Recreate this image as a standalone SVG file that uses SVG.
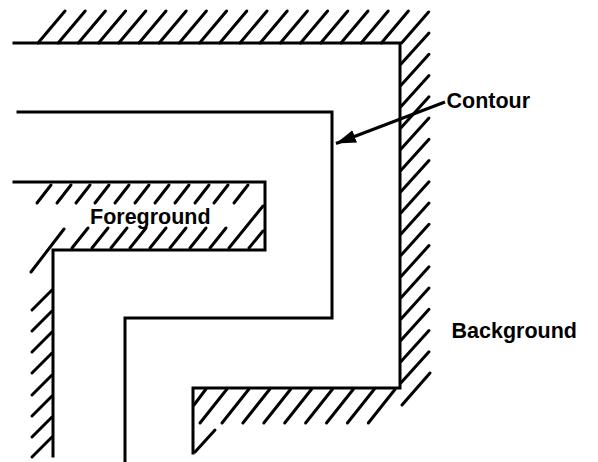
<svg xmlns="http://www.w3.org/2000/svg" width="598" height="462" viewBox="0 0 598 462">
<style>
.edge{fill:none;stroke:#000;stroke-width:3;stroke-linejoin:miter;stroke-linecap:square}
.h line{stroke:#000;stroke-width:3;stroke-linecap:round}
.lbl{font-family:"Liberation Sans",Arial,sans-serif;font-size:21.5px;font-weight:bold;fill:#000}
.conn{stroke:#000;stroke-width:3;fill:none;stroke-linecap:butt}
</style>
<defs>
<marker id="arr" markerUnits="userSpaceOnUse" markerWidth="22" markerHeight="14" refX="20" refY="6.5" orient="auto">
<path d="M0,0 L20,6.5 L0,13 z" fill="#000"/>
</marker>
</defs>
<rect width="598" height="462" fill="#fff"/>
<g id="background">
<path class="edge" d="M14,43 H400 V388 H193 V453"/>
<g class="h">
<line x1="38" y1="43" x2="65" y2="11"/>
<line x1="58.2" y1="43" x2="85.2" y2="11"/>
<line x1="78.4" y1="43" x2="105.4" y2="11"/>
<line x1="98.6" y1="43" x2="125.6" y2="11"/>
<line x1="118.8" y1="43" x2="145.8" y2="11"/>
<line x1="139" y1="43" x2="166" y2="11"/>
<line x1="159.2" y1="43" x2="186.2" y2="11"/>
<line x1="179.4" y1="43" x2="206.4" y2="11"/>
<line x1="199.6" y1="43" x2="226.6" y2="11"/>
<line x1="219.8" y1="43" x2="246.8" y2="11"/>
<line x1="240" y1="43" x2="267" y2="11"/>
<line x1="260.2" y1="43" x2="287.2" y2="11"/>
<line x1="280.4" y1="43" x2="307.4" y2="11"/>
<line x1="300.6" y1="43" x2="327.6" y2="11"/>
<line x1="320.8" y1="43" x2="347.8" y2="11"/>
<line x1="341" y1="43" x2="368" y2="11"/>
<line x1="361.2" y1="43" x2="388.2" y2="11"/>
<line x1="381.4" y1="43" x2="408.4" y2="11"/>
<line x1="401.6" y1="43" x2="428.6" y2="12"/>
<line x1="401" y1="64" x2="429" y2="33"/>
<line x1="401" y1="85.25" x2="429" y2="54.25"/>
<line x1="401" y1="106.5" x2="429" y2="75.5"/>
<line x1="401" y1="127.75" x2="429" y2="96.75"/>
<line x1="401" y1="149" x2="429" y2="118"/>
<line x1="401" y1="170.25" x2="429" y2="139.25"/>
<line x1="401" y1="191.5" x2="429" y2="160.5"/>
<line x1="401" y1="212.75" x2="429" y2="181.75"/>
<line x1="401" y1="234" x2="429" y2="203"/>
<line x1="401" y1="255.25" x2="429" y2="224.25"/>
<line x1="401" y1="276.5" x2="429" y2="245.5"/>
<line x1="401" y1="297.75" x2="429" y2="266.75"/>
<line x1="401" y1="319" x2="429" y2="288"/>
<line x1="401" y1="340.25" x2="429" y2="309.25"/>
<line x1="401" y1="361.5" x2="429" y2="330.5"/>
<line x1="401" y1="382.75" x2="429" y2="351.75"/>
<line x1="402" y1="405" x2="430" y2="373"/>
<line x1="222" y1="423" x2="249" y2="389"/>
<line x1="242.9" y1="423" x2="269.9" y2="389"/>
<line x1="263.8" y1="423" x2="290.8" y2="389"/>
<line x1="284.7" y1="423" x2="311.7" y2="389"/>
<line x1="305.6" y1="423" x2="332.6" y2="389"/>
<line x1="326.5" y1="423" x2="353.5" y2="389"/>
<line x1="347.4" y1="423" x2="374.4" y2="389"/>
<line x1="368.3" y1="423" x2="395.3" y2="389"/>
<line x1="200" y1="423" x2="227" y2="389"/>
<line x1="194" y1="405" x2="206" y2="389"/>
<line x1="195" y1="452" x2="215" y2="430"/>
</g>
</g>
<g id="foreground">
<path class="edge" d="M14,182 H265 V250 H53 V456"/>
<g class="h">
<line x1="37" y1="203" x2="51" y2="185"/>
<line x1="57" y1="203" x2="71" y2="185"/>
<line x1="76" y1="203" x2="90" y2="185"/>
<line x1="95" y1="203" x2="109" y2="185"/>
<line x1="115" y1="203" x2="129" y2="185"/>
<line x1="135" y1="203" x2="149" y2="185"/>
<line x1="155" y1="203" x2="169" y2="185"/>
<line x1="175" y1="203" x2="189" y2="185"/>
<line x1="195" y1="203" x2="209" y2="185"/>
<line x1="214" y1="203" x2="228" y2="185"/>
<line x1="234" y1="203" x2="248" y2="185"/>
<line x1="72" y1="248" x2="88" y2="228"/>
<line x1="92" y1="248" x2="108" y2="228"/>
<line x1="111" y1="248" x2="127" y2="228"/>
<line x1="130" y1="248" x2="146" y2="228"/>
<line x1="150" y1="248" x2="166" y2="228"/>
<line x1="170" y1="248" x2="186" y2="228"/>
<line x1="190" y1="248" x2="206" y2="228"/>
<line x1="210" y1="248" x2="226" y2="228"/>
<line x1="229" y1="248" x2="263" y2="206"/>
<line x1="249" y1="248" x2="263" y2="231"/>
<line x1="31" y1="272" x2="64" y2="229"/>
<line x1="32" y1="310" x2="52" y2="290"/>
<line x1="32" y1="331" x2="52" y2="311"/>
<line x1="32" y1="352" x2="52" y2="332"/>
<line x1="32" y1="373" x2="52" y2="353"/>
<line x1="32" y1="395" x2="52" y2="375"/>
<line x1="32" y1="416" x2="52" y2="396"/>
<line x1="32" y1="437" x2="52" y2="417"/>
<line x1="32" y1="457" x2="52" y2="437"/>
</g>
<text class="lbl" x="90" y="223.5">Foreground</text>
</g>
<g id="contour">
<path class="edge" d="M18,112 H332 V318 H125 V462"/>
<text class="lbl" x="446.5" y="107.5">Contour</text>
</g>
<g id="background-label">
<text class="lbl" x="451.5" y="337.5">Background</text>
</g>
<g id="connectors">
<line class="conn" x1="445" y1="102" x2="336" y2="143.5" marker-end="url(#arr)"/>
</g>
</svg>
